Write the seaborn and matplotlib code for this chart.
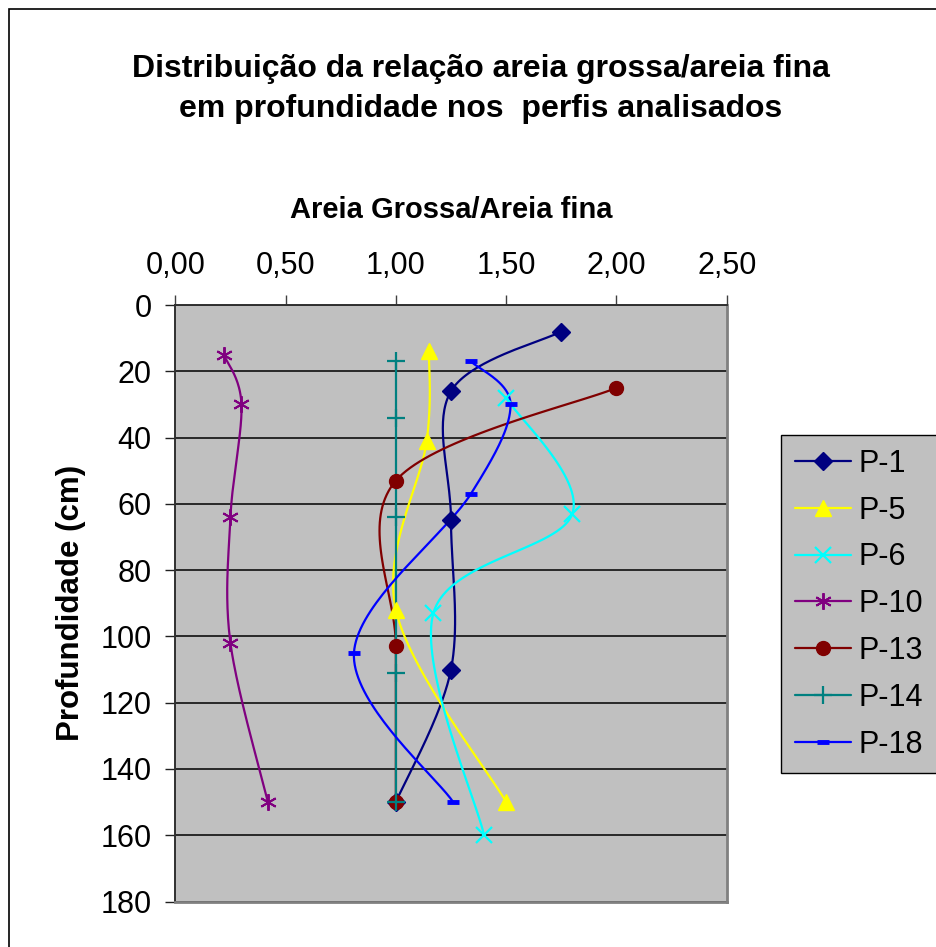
import numpy as np
import pandas as pd
import matplotlib
matplotlib.use("Agg")
import matplotlib.pyplot as plt
from matplotlib.lines import Line2D
from matplotlib.patches import Rectangle
import seaborn as sns

# ---- data ----
series_names = ["P-1", "P-5", "P-6", "P-10", "P-13", "P-14", "P-18"]
p1_x = [1.75, 1.25, 1.25, 1.25, 1.00]
p1_y = [8, 26, 65, 110, 150]
p5_x = [1.15, 1.14, 1.00, 1.50]
p5_y = [14, 41, 92, 150]
p6_x = [1.50, 1.80, 1.17, 1.40]
p6_y = [28, 63, 93, 160]
p10_x = [0.22, 0.30, 0.25, 0.25, 0.42]
p10_y = [15, 30, 64, 102, 150]
p13_x = [2.00, 1.00, 1.00, 1.00]
p13_y = [25, 53, 103, 150]
p14_x = [1.00, 1.00, 1.00, 1.00, 1.00]
p14_y = [17, 34, 64, 111, 150]
p18_x = [1.34, 1.52, 1.34, 0.81, 1.26]
p18_y = [17, 30, 57, 105, 150]

x_ticks = [0.0, 0.5, 1.0, 1.5, 2.0, 2.5]
x_tick_labels = ["0,00", "0,50", "1,00", "1,50", "2,00", "2,50"]
y_ticks = [0, 20, 40, 60, 80, 100, 120, 140, 160, 180]

series_x = [p1_x, p5_x, p6_x, p10_x, p13_x, p14_x, p18_x]
series_y = [p1_y, p5_y, p6_y, p10_y, p13_y, p14_y, p18_y]

colors = ["#000080", "#FFFF00", "#00FFFF", "#800080", "#800000", "#008080", "#0000FF"]
markers = ["D", "^", "x", (6, 2, 0), "o", "+", "_"]
msizes = [9, 11, 11, 12, 10, 13, 8]
mews = [1, 1, 1.6, 1.4, 1, 1.6, 3.5]

sns.set_theme(style="white")
plt.rcParams["font.family"] = ["Liberation Sans", "DejaVu Sans"]
plt.rcParams["text.color"] = "black"
plt.rcParams["axes.labelcolor"] = "black"
plt.rcParams["xtick.color"] = "black"
plt.rcParams["ytick.color"] = "black"

W, H = 937, 947
fig = plt.figure(figsize=(W / 100, H / 100), dpi=100)
ax = fig.add_axes([175.3 / W, 1 - 901.5 / H, (726.7 - 175.3) / W, (901.5 - 305) / H])
ax.set_facecolor("#C0C0C0")

XS, YS = 220.6, 3.31  # px per data unit, for shape-preserving smoothing


def smooth(xs, ys, n=40):
    px = np.array(xs, float) * XS
    py = np.array(ys, float) * YS
    P = np.column_stack([px, py])
    P = np.vstack([P[0], P, P[-1]])
    out = []
    for i in range(1, len(P) - 2):
        p0, p1, p2, p3 = P[i - 1], P[i], P[i + 1], P[i + 2]
        c1 = p1 + (p2 - p0) / 6
        c2 = p2 - (p3 - p1) / 6
        t = np.linspace(0, 1, n)[:, None]
        seg = ((1 - t) ** 3) * p1 + 3 * ((1 - t) ** 2) * t * c1 + 3 * (1 - t) * t ** 2 * c2 + t ** 3 * p2
        out.append(seg if i == 1 else seg[1:])
    out = np.vstack(out)
    return out[:, 0] / XS, out[:, 1] / YS


for name, xs, ys, c in zip(series_names, series_x, series_y, colors):
    sx, sy = smooth(xs, ys)
    df = pd.DataFrame({"x": sx, "y": sy})
    sns.lineplot(data=df, x="x", y="y", sort=False, estimator=None, color=c, lw=1.6, ax=ax, zorder=3)

for name, xs, ys, c, m, ms, mw in zip(series_names, series_x, series_y, colors, markers, msizes, mews):
    ax.plot(xs, ys, linestyle="none", marker=m, markersize=ms, color=c, markeredgecolor=c,
            markeredgewidth=mw, zorder=4)

ax.set_xlim(0, 2.5)
ax.set_ylim(180, 0)
ax.set_xticks(x_ticks)
ax.set_xticklabels(x_tick_labels)
ax.set_yticks(y_ticks)
ax.xaxis.tick_top()
ax.xaxis.set_label_position("top")
ax.grid(axis="y", color="black", lw=1.1)
ax.grid(axis="x", visible=False)
ax.set_axisbelow(True)
ax.tick_params(axis="x", top=True, bottom=False, direction="out", length=7.2, width=1,
               labelsize=22, pad=10, color="#404040", labelcolor="black")
ax.tick_params(axis="y", left=True, direction="out", length=7.2, width=1, labelsize=22, pad=10,
               color="#202020", labelcolor="black")
for s in ["left", "top"]:
    ax.spines[s].set_color("#303030")
    ax.spines[s].set_linewidth(1.4)
for s in ["right", "bottom"]:
    ax.spines[s].set_color("#808080")
    ax.spines[s].set_linewidth(2)
ax.set_xlabel("Areia Grossa/Areia fina", fontsize=21, fontweight="bold", labelpad=24, color="black")
ax.set_ylabel("Profundidade (cm)", fontsize=22.5, fontweight="bold", labelpad=10, color="black")

fig.text(481 / W, 1 - 89 / H, "Distribuição da relação areia grossa/areia fina\nem profundidade nos  perfis analisados",
         ha="center", va="center", fontsize=23, fontweight="bold", linespacing=1.4, color="black")

handles = [Line2D([0], [0], color=c, lw=1.6, marker=m, markersize=ms, markeredgecolor=c, markeredgewidth=mw)
           for c, m, ms, mw in zip(colors, markers, msizes, mews)]
leg = ax.legend(handles, series_names, loc="upper left", bbox_to_anchor=(781 / W, 1 - 435 / H),
                bbox_transform=fig.transFigure, borderaxespad=0, fontsize=22, frameon=True,
                fancybox=False, handlelength=1.85, handletextpad=0.25, labelspacing=0.55,
                borderpad=0.45)
leg.get_frame().set_facecolor("#C0C0C0")
leg.get_frame().set_edgecolor("black")
leg.get_frame().set_linewidth(1)
leg.get_frame().set_alpha(1)
for t in leg.get_texts():
    t.set_color("black")

fig.patches.append(Rectangle((9 / W, -0.05), 1.1, 1.05 - 9 / H, transform=fig.transFigure,
                             fill=False, edgecolor="black", lw=1.2))

fig.savefig("out.png", dpi=100)
